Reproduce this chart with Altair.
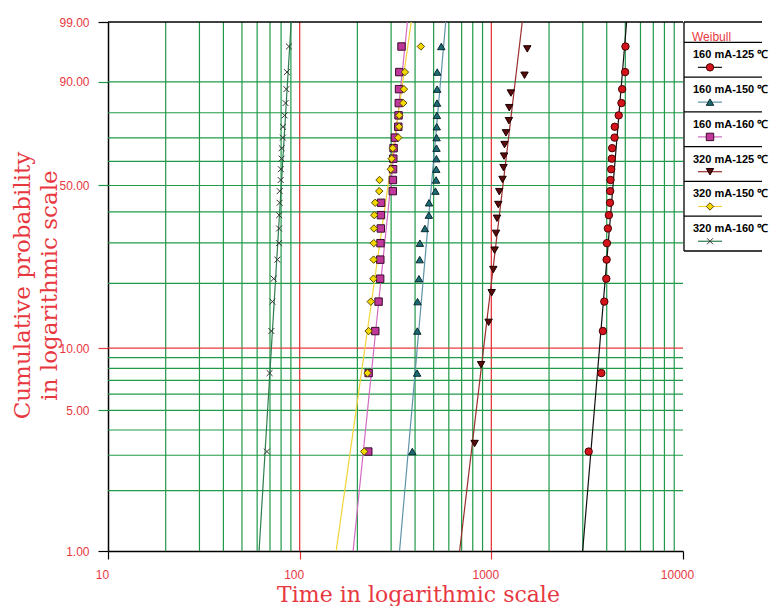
import altair as alt
import numpy as np
import pandas as pd

RED = "#e8383f"
GREEN = "#1f9a48"

series = ["160 mA-125 \u2103", "160 mA-150 \u2103", "160 mA-160 \u2103",
          "320 mA-125 \u2103", "320 mA-150 \u2103", "320 mA-160 \u2103"]

# cumulative probability (%) of each plotted point (median ranks)
prob_22 = [3.13, 7.59, 12.05, 16.52, 20.98, 25.45, 29.91, 34.38, 38.84, 43.30, 47.77,
           52.23, 56.70, 61.16, 65.63, 70.09, 74.55, 79.02, 83.48, 87.95, 92.41, 96.88]
prob_20 = [3.43, 8.33, 13.24, 18.14, 23.04, 27.94, 32.84, 37.75, 42.65, 47.55,
           52.45, 57.35, 62.25, 67.16, 72.06, 76.96, 81.86, 86.76, 91.67, 96.57]

# failure times
t_160_125 = [3220, 3750, 3820, 3885, 3980, 3995, 4010, 4055, 4105, 4160, 4170,
             4185, 4220, 4250, 4270, 4395, 4405, 4620, 4775, 4815, 4990, 5010]
t_160_150 = [387, 410, 411, 412, 419, 423, 424, 450, 472, 473, 511,
             515, 516, 517, 517.5, 518, 519, 520, 521, 521.5, 522, 548]
t_160_160 = [228, 229, 248, 258, 263, 263.5, 264, 265, 265.5, 266, 306,
             306.5, 307, 308, 309, 314, 327, 328, 329, 330, 331, 340]
t_320_125 = [818, 884, 968, 1004, 1024, 1040, 1058, 1070, 1087, 1100,
             1144, 1158, 1165, 1172, 1192, 1235, 1240, 1265, 1490, 1540]
t_320_150 = [217, 226, 229, 235, 242.5, 243, 243.5, 244, 245, 247.6, 260,
             261, 299, 302, 306, 327, 330, 331, 347, 350, 354, 429]
t_320_160 = [67.5, 69.7, 71.2, 72.1, 73.2, 76.5, 78.0, 78.1, 78.2, 78.6, 78.7,
             79.6, 79.8, 80.5, 80.6, 81.7, 81.8, 83.4, 84.4, 85.2, 85.8, 87.9]

# fitted Weibull lines: time at 1 % and at 99 %
fit_p = [1, 99]
fit_160_125 = [2995, 5079]
fit_160_150 = [332, 578]
fit_160_160 = [190, 365]
fit_320_125 = [683, 1450]
fit_320_150 = [155, 382]
fit_320_160 = [61.4, 90.3]

# paper grid
vgrid_green = [20, 30, 40, 50, 60, 70, 80, 90, 200, 300, 400, 500, 600, 700, 800, 900,
               2000, 3000, 4000, 5000, 6000, 7000, 8000, 9000]
vgrid_red = [100, 1000]
hgrid_green = [2, 3, 4, 5, 6, 7, 8, 9, 20, 30, 40, 50, 60, 70, 80, 90]
hgrid_red = [10]
hgrid_black = [99]
x_ticks = [10, 100, 1000, 10000]
y_tick_probs = [1, 5, 10, 50, 90, 99]

line_colors = ["#111111", "#5f93a8", "#d36bc4", "#9b2d2d", "#f2d43a", "#2e7d4f"]
fill_colors = ["#d4141c", "#1c6b74", "#c0389c", "#5a0a0a", "#f5d800", "#333333"]
stroke_colors = ["#4a0000", "#0a2a2e", "#3a0a2a", "#1a0000", "#5a4a00", "#333333"]
shapes = ["circle", "triangle-up", "square", "triangle-down", "diamond",
          "M-0.8,-0.8L0.8,0.8M-0.8,0.8L0.8,-0.8"]

pt_times = [t_160_125, t_160_150, t_160_160, t_320_125, t_320_150, t_320_160]
pt_probs = [prob_22, prob_22, prob_22, prob_20, prob_22, prob_22]
fits = [fit_160_125, fit_160_150, fit_160_160, fit_320_125, fit_320_150, fit_320_160]

points = pd.concat([pd.DataFrame({"series": s, "time": t, "prob": p})
                    for s, t, p in zip(series, pt_times, pt_probs)], ignore_index=True)
lines = pd.concat([pd.DataFrame({"series": s, "time": f, "prob": fit_p})
                   for s, f in zip(series, fits)], ignore_index=True)

U = "log(-log(1 - datum.prob / 100))"
def weib(p):
    return float(np.log(-np.log(1 - p / 100.0)))

u_lo, u_hi = weib(1), weib(99)
y_tick_vals = [weib(p) for p in y_tick_probs]

X_SCALE = alt.Scale(type="log", domain=[10, 10000], nice=False)
Y_SCALE = alt.Scale(domain=[u_lo, u_hi], nice=False, zero=False)

x_axis = alt.Axis(
    values=x_ticks, format="d", grid=False, labelFlush=False, labelOffset=-6,
    labelColor=RED, labelFont="Liberation Sans", labelFontSize=12, labelPadding=10,
    domainColor="black", domainWidth=1.5, tickSize=8, tickWidth=1.2,
    tickColor={"condition": {"test": "datum.value == 100 || datum.value == 1000", "value": RED},
               "value": "black"},
    title="Time in logarithmic scale", titleFont="DejaVu Serif", titleFontSize=22,
    titleFontWeight="normal", titleColor=RED, titleX=310, titleY=50,
    titleAlign="center", titleBaseline="alphabetic",
)
y_axis = alt.Axis(
    values=y_tick_vals, grid=False,
    labelExpr="format(100 * (1 - exp(-exp(datum.value))), '.2f')",
    labelColor=RED, labelFont="Liberation Sans", labelFontSize=12, labelPadding=9,
    domainColor="black", domainWidth=1.5, tickSize=10, tickWidth=1.2,
    tickColor={"condition": [
        {"test": "datum.value < -4 || datum.value > 1.4", "value": "black"},
        {"test": "datum.value > -2.3 && datum.value < -2.2", "value": RED}],
        "value": GREEN},
    title=["Cumulative probability", "in logarithmic scale"], titleFont="DejaVu Serif",
    titleFontSize=23, titleFontWeight="normal", titleColor=RED, titleLineHeight=27,
    titleAngle=270, titleX=-86, titleY=263, titleAlign="center", titleBaseline="middle",
)

def X():
    return alt.X("time:Q", scale=X_SCALE, axis=x_axis)

def Y():
    return alt.Y("u:Q", scale=Y_SCALE, axis=y_axis)

vg = alt.Chart(pd.DataFrame({"time": vgrid_green})).mark_rule(color=GREEN, strokeWidth=1.2).encode(x=X())
vr = alt.Chart(pd.DataFrame({"time": vgrid_red})).mark_rule(color=RED, strokeWidth=1.3).encode(x=X())
hg = alt.Chart(pd.DataFrame({"prob": hgrid_green})).transform_calculate(u=U).mark_rule(
    color=GREEN, strokeWidth=1.2).encode(y=Y())
hr = alt.Chart(pd.DataFrame({"prob": hgrid_red})).transform_calculate(u=U).mark_rule(
    color=RED, strokeWidth=1.3).encode(y=Y())
hb = alt.Chart(pd.DataFrame({"prob": hgrid_black})).transform_calculate(u=U).mark_rule(
    color="black", strokeWidth=1.5).encode(y=Y())

COLOR = alt.Color("series:N", scale=alt.Scale(domain=series, range=line_colors), legend=None)
SHAPE = alt.Shape("series:N", scale=alt.Scale(domain=series, range=shapes), legend=None)
FILL = alt.Fill("series:N", scale=alt.Scale(domain=series, range=fill_colors), legend=None)
STROKE = alt.Stroke("series:N", scale=alt.Scale(domain=series, range=stroke_colors), legend=None)

fit_layer = alt.Chart(lines).transform_calculate(u=U).mark_line(strokeWidth=1.2, clip=True).encode(
    x=X(), y=Y(), color=COLOR, detail="series:N")
pt_layer = alt.Chart(points).transform_calculate(u=U).mark_point(
    filled=True, size=55, strokeWidth=1, opacity=1).encode(
    x=X(), y=Y(), shape=SHAPE, fill=FILL, stroke=STROKE)

main = alt.layer(vg, vr, hg, hr, hb, fit_layer, pt_layer)

# legend panel at the right of the plot
leg = pd.DataFrame({"series": series})
LEG_Y = alt.Scale(domain=series, range=[20.3, 229], paddingInner=0, paddingOuter=0)
LX0, LX1 = 576, 654

def LY(bp):
    return alt.Y("series:N", scale=LEG_Y, axis=None, bandPosition=bp)

leg_sep = alt.Chart(leg).mark_rule(color="black", strokeWidth=1.3).encode(
    y=LY(0), x=alt.value(LX0), x2=alt.value(LX1))
leg_bot = alt.Chart(leg.tail(1)).mark_rule(color="black", strokeWidth=1.3).encode(
    y=LY(1), x=alt.value(LX0), x2=alt.value(LX1))
leg_top = alt.Chart(leg.head(1)).mark_rule(color="black", strokeWidth=1.5).encode(
    y=alt.value(0), x=alt.value(LX0), x2=alt.value(LX1))
leg_left = alt.Chart(leg.head(1)).mark_rule(color="black", strokeWidth=1.3).encode(
    x=alt.value(LX0), y=alt.value(0), y2=alt.value(229))
leg_head = alt.Chart(pd.DataFrame({"t": ["Weibull"]})).mark_text(
    align="left", baseline="middle", color=RED, font="Liberation Sans", fontSize=12).encode(
    text="t:N", x=alt.value(584), y=alt.value(14.5))
leg_text = alt.Chart(leg).mark_text(
    align="left", baseline="middle", color="black", font="Liberation Sans",
    fontSize=11, fontWeight="bold").encode(text="series:N", y=LY(0.37), x=alt.value(585))
leg_line = alt.Chart(leg).mark_rule(strokeWidth=1.2).encode(
    y=LY(0.72), x=alt.value(590), x2=alt.value(614), color=COLOR)
leg_pt = alt.Chart(leg).mark_point(filled=True, size=55, strokeWidth=1, opacity=1).encode(
    y=LY(0.72), x=alt.value(602), shape=SHAPE, fill=FILL, stroke=STROKE)

legend = alt.layer(leg_sep, leg_bot, leg_top, leg_left, leg_head, leg_text, leg_line, leg_pt)

chart = alt.layer(main, legend).resolve_scale(y="independent").properties(
    width=575, height=529,
    autosize=alt.AutoSizeParams(type="none"),
    padding={"left": 100, "top": 14, "right": 86, "bottom": 55},
    background="white",
).configure_view(stroke=None)

chart.save("out.html", embed_options={"renderer": "svg", "actions": False})
